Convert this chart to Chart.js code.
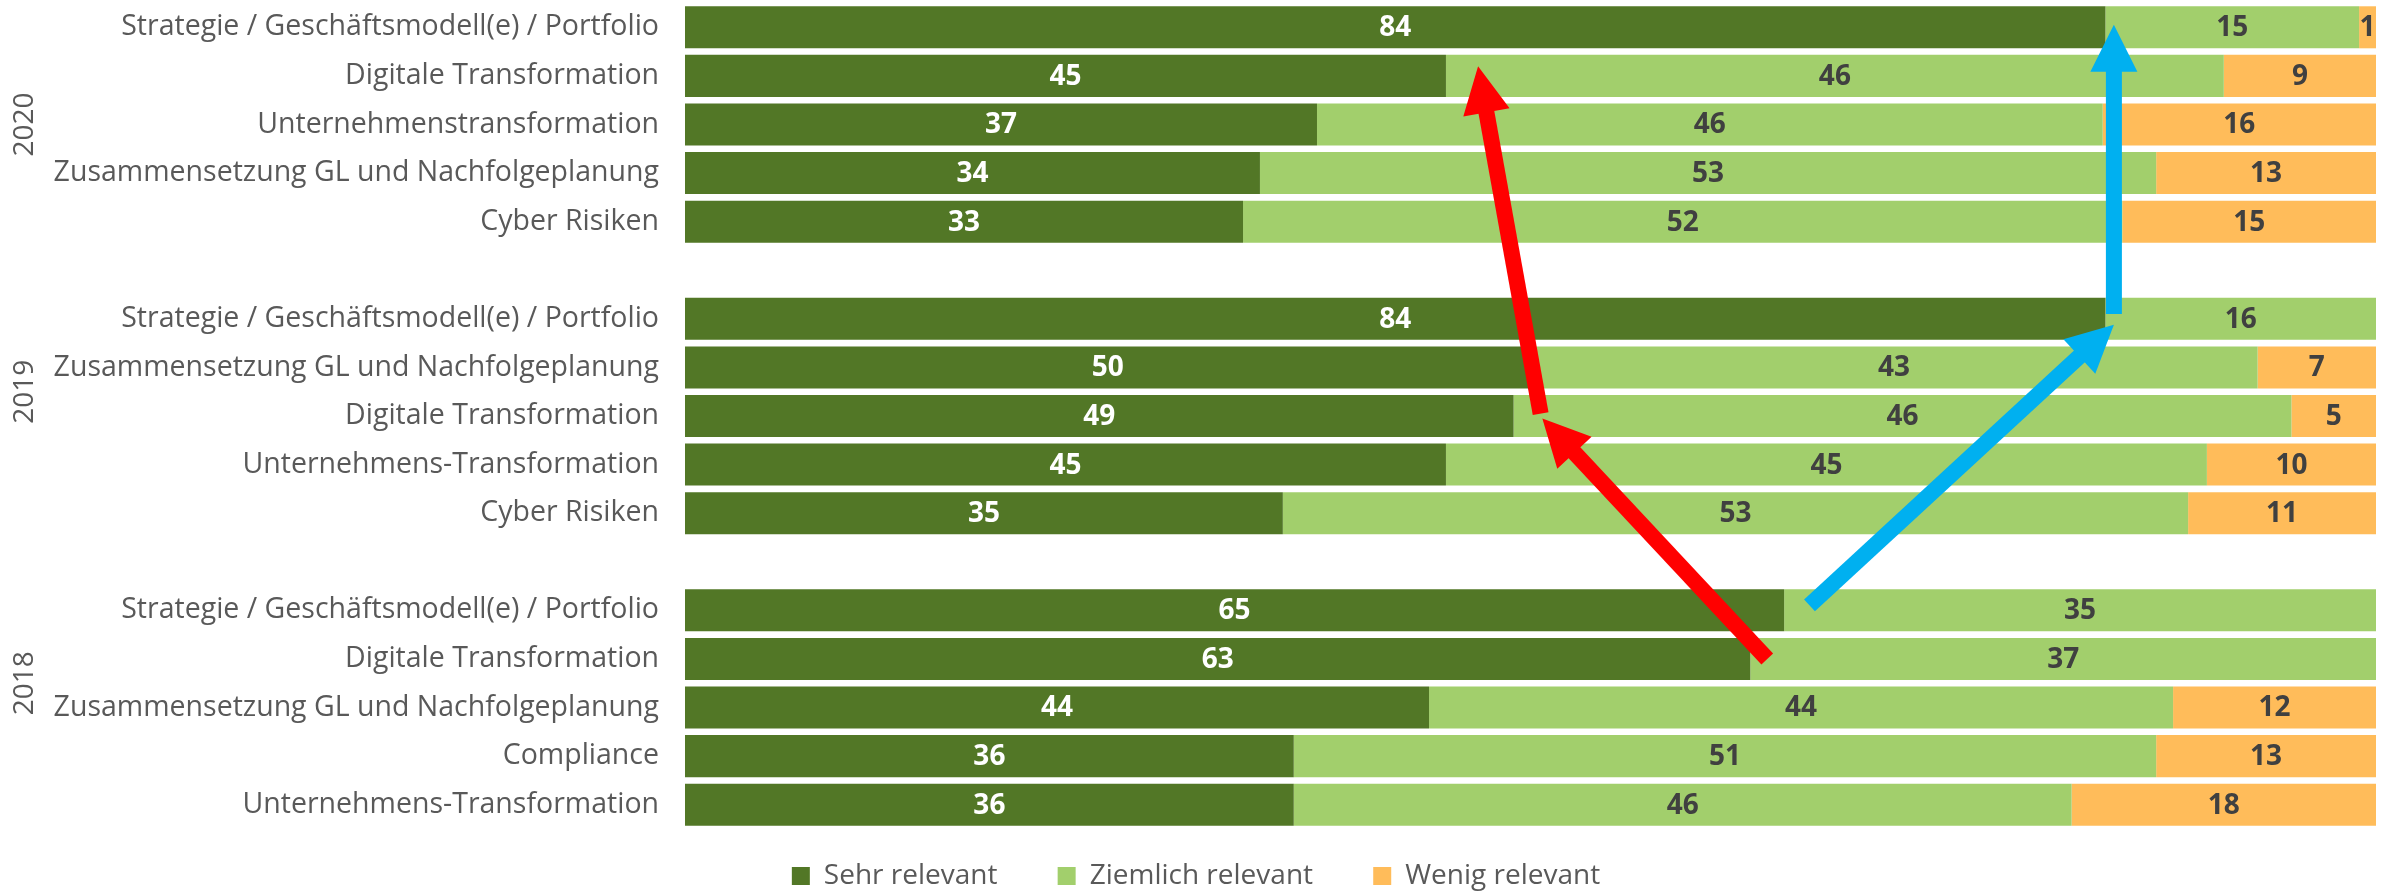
<!DOCTYPE html>
<html>
<head>
<meta charset="utf-8">
<script src="https://cdn.jsdelivr.net/npm/chart.js@4/dist/chart.umd.min.js"></script>
<style>
html,body{margin:0;padding:0;background:#ffffff;}
#wrap{width:2394px;height:891px;}
canvas{display:block;}
</style>
</head>
<body>
<div id="wrap"><canvas id="c" width="2394" height="891"></canvas></div>
<script>
// ---- data ----
const categories = [
  'Strategie / Geschäftsmodell(e) / Portfolio', 'Digitale Transformation', 'Unternehmenstransformation', 'Zusammensetzung GL und Nachfolgeplanung', 'Cyber Risiken',
  '',
  'Strategie / Geschäftsmodell(e) / Portfolio', 'Zusammensetzung GL und Nachfolgeplanung', 'Digitale Transformation', 'Unternehmens-Transformation', 'Cyber Risiken',
  '',
  'Strategie / Geschäftsmodell(e) / Portfolio', 'Digitale Transformation', 'Zusammensetzung GL und Nachfolgeplanung', 'Compliance', 'Unternehmens-Transformation'
];
const years = ['2020', '2019', '2018'];
const yearSpans = [[0, 4], [5, 10], [11, 16]];
const seriesNames = ['Sehr relevant', 'Ziemlich relevant', 'Wenig relevant'];
const sehr     = [84, 45, 37, 34, 33, null, 84, 50, 49, 45, 35, null, 65, 63, 44, 36, 36];
const ziemlich = [15, 46, 46, 53, 52, null, 16, 43, 46, 45, 53, null, 35, 37, 44, 51, 46];
const wenig    = [ 1,  9, 16, 13, 15, null,  0,  7,  5, 10, 11, null,  0,  0, 12, 13, 18];
// arrows: [ [fromValue, fromRow], [toValue, toRow] ]
const redArrows  = [[[64.0, 13.0], [50.7, 8.05]], [[50.6, 7.95], [46.9, 0.8]]];
const blueArrows = [[[66.5, 11.9], [84.5, 6.12]], [[84.5, 5.9], [84.5, -0.05]]];

// ---- styling ----
const FONT = '"Open Sans", "Noto Sans", sans-serif';
const colors = ['#527726', '#A2CF6C', '#FFBC5A'];
const labelColors = ['#ffffff', '#404040', '#404040'];

const raw = [sehr, ziemlich, wenig];
const totals = sehr.map((v, i) => v === null ? null : (sehr[i] + ziemlich[i] + wenig[i]));
const pct = arr => arr.map((v, i) => v === null ? null : v / totals[i] * 100);

const datasets = raw.map((arr, k) => ({
  label: seriesNames[k],
  data: pct(arr),
  rawValues: arr,
  backgroundColor: colors[k],
  borderWidth: 0,
  barPercentage: 1,
  categoryPercentage: 0.865
}));

const dataLabelPlugin = {
  id: 'dataLabels',
  afterDatasetsDraw(chart) {
    const ctx = chart.ctx;
    ctx.save();
    ctx.font = 'bold 28px ' + FONT;
    ctx.textAlign = 'center';
    ctx.textBaseline = 'middle';
    chart.data.datasets.forEach((ds, i) => {
      const meta = chart.getDatasetMeta(i);
      meta.data.forEach((el, j) => {
        const v = ds.rawValues[j];
        if (!v) return;
        const p = el.getCenterPoint();
        ctx.fillStyle = labelColors[i];
        ctx.fillText(String(v), p.x, p.y + 1);
      });
    });
    ctx.restore();
  }
};

function drawArrow(ctx, x0, y0, x1, y1, color) {
  const dx = x1 - x0, dy = y1 - y0;
  const len = Math.hypot(dx, dy);
  const ux = dx / len, uy = dy / len;
  const headL = 47, headW = 47, lw = 16;
  const bx = x1 - ux * headL, by = y1 - uy * headL;
  ctx.strokeStyle = color;
  ctx.fillStyle = color;
  ctx.lineWidth = lw;
  ctx.lineCap = 'butt';
  ctx.beginPath();
  ctx.moveTo(x0, y0);
  ctx.lineTo(bx + ux * 2, by + uy * 2);
  ctx.stroke();
  ctx.beginPath();
  ctx.moveTo(x1, y1);
  ctx.lineTo(bx - uy * headW / 2, by + ux * headW / 2);
  ctx.lineTo(bx + uy * headW / 2, by - ux * headW / 2);
  ctx.closePath();
  ctx.fill();
}

const arrowPlugin = {
  id: 'arrows',
  afterDatasetsDraw(chart) {
    const ctx = chart.ctx, xs = chart.scales.x, ys = chart.scales.y;
    ctx.save();
    const draw = (list, color) => list.forEach(([a, b]) => {
      drawArrow(ctx, xs.getPixelForValue(a[0]), ys.getPixelForValue(a[1]),
                xs.getPixelForValue(b[0]), ys.getPixelForValue(b[1]), color);
    });
    draw(redArrows, '#FF0000');
    draw(blueArrows, '#00B0F0');
    ctx.restore();
  }
};

const yearPlugin = {
  id: 'years',
  afterDraw(chart) {
    const ctx = chart.ctx, ys = chart.scales.y;
    ctx.save();
    ctx.font = '28px ' + FONT;
    ctx.fillStyle = '#595959';
    ctx.textAlign = 'center';
    ctx.textBaseline = 'middle';
    years.forEach((yr, i) => {
      const y = (ys.getPixelForValue(yearSpans[i][0]) + ys.getPixelForValue(yearSpans[i][1])) / 2;
      ctx.save();
      ctx.translate(25, y);
      ctx.rotate(-Math.PI / 2);
      ctx.fillText(yr, 0, 0);
      ctx.restore();
    });
    ctx.restore();
  }
};

function build() {
  const NB = '\u00A0'.repeat(8);
  new Chart(document.getElementById('c'), {
    type: 'bar',
    data: { labels: categories, datasets },
    options: {
      indexAxis: 'y',
      responsive: false,
      animation: false,
      devicePixelRatio: 1,
      layout: { padding: { left: 16, right: 18, top: 3, bottom: -9 } },
      scales: {
        x: {
          stacked: true, min: 0, max: 100, display: true,
          ticks: { display: false },
          grid: { display: false, drawTicks: false },
          border: { display: false },
          afterFit(s) { s.height = 31; s.paddingLeft = 0; s.paddingRight = 0; }
        },
        y: {
          stacked: true,
          ticks: { font: { family: FONT, size: 28.5 }, color: '#595959', padding: 26, autoSkip: false },
          grid: { display: false, drawTicks: false },
          border: { display: false },
          afterFit(s) { s.width = 669; s.paddingTop = 0; s.paddingBottom = 0; }
        }
      },
      plugins: {
        tooltip: { enabled: false },
        legend: {
          position: 'bottom',
          labels: {
            font: { family: FONT, size: 28 },
            color: '#595959',
            boxWidth: 18,
            boxHeight: 18,
            padding: 2,
            generateLabels(chart) {
              const items = Chart.defaults.plugins.legend.labels.generateLabels(chart);
              items.forEach((it, i) => {
                if (i < items.length - 1) it.text = it.text + NB;
                it.lineWidth = 0;
                it.strokeStyle = 'rgba(0,0,0,0)';
              });
              return items;
            }
          }
        }
      }
    },
    plugins: [dataLabelPlugin, arrowPlugin, yearPlugin]
  });
}

if (document.fonts && document.fonts.load) {
  Promise.all([
    document.fonts.load('28px "Open Sans"'),
    document.fonts.load('bold 28px "Open Sans"')
  ]).then(build, build);
} else {
  build();
}
</script>
</body>
</html>
